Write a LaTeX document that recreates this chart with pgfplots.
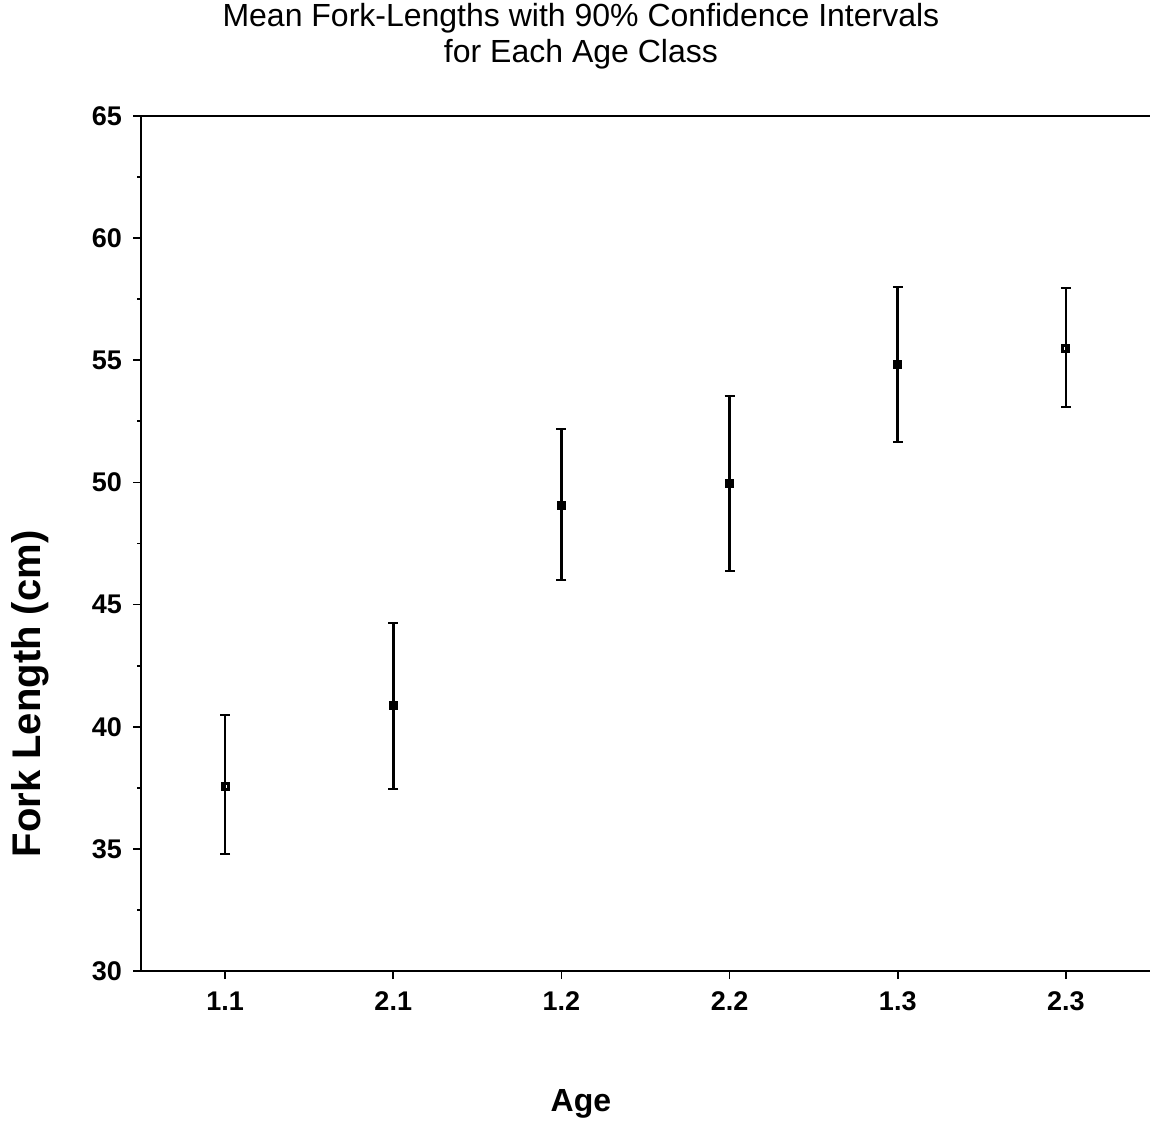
\documentclass[border=0pt]{standalone}
\usepackage{fontspec}
\setmainfont{Liberation Sans}
\usepackage{pgfplots}
\pgfplotsset{compat=1.18}

\begin{document}
\begin{tikzpicture}
\begin{axis}[
  name=ax,
  scale only axis,
  width=504.5pt, height=427.5pt,
  xmin=-0.5, xmax=5.5,
  ymin=30, ymax=65,
  clip=false,
  separate axis lines,
  axis x line=box, axis y line=left,
  axis line style={-, line width=1.2pt, black},
  every outer y axis line/.append style={-},
  xtick pos=left, ytick pos=left,
  xtick={0,1,2,3,4,5},
  xticklabels={1.1,2.1,1.2,2.2,1.3,2.3},
  ytick={30,35,40,45,50,55,60,65},
  minor y tick num=1,
  tick align=outside,
  major tick length=4pt, minor tick length=2pt,
  tick style={line width=0.9pt, black},
  ticklabel style={font=\fontsize{13.5}{15}\selectfont\bfseries},
  xticklabel style={yshift=-3pt},
  yticklabel style={xshift=-2pt},
  /pgf/number format/assume math mode=true,
]
\addplot[only marks, black, mark=square, mark size=1.5pt,
  mark options={line width=1.5pt, fill=white},
  error bars/.cd, y dir=both, y explicit,
  error bar style={line width=1.3pt},
  error mark options={rotate=90, mark size=2.5pt, line width=1pt}]
coordinates {
  (0,37.57) += (0,2.91) -= (0,2.78)
  (1,40.85) += (0,3.40) -= (0,3.40)
  (2,49.04) += (0,3.15) -= (0,3.03)
  (3,49.94) += (0,3.60) -= (0,3.56)
  (4,54.81) += (0,3.17) -= (0,3.16)
  (5,55.50) += (0,2.46) -= (0,2.41)
};
\node[font=\fontsize{16}{18}\selectfont, align=center, anchor=south, inner sep=0pt]
  at ([yshift=23pt]rel axis cs:0.436,1) {Mean Fork-Lengths with 90\% Confidence Intervals\\for Each Age Class};
\node[font=\fontsize{16}{18}\selectfont\bfseries, anchor=base, inner sep=0pt]
  at ([yshift=-70pt]rel axis cs:0.436,0) {Age};
\node[font=\fontsize{20}{24}\selectfont\bfseries, anchor=base, rotate=90, inner sep=0pt]
  at ([xshift=-50pt]rel axis cs:0,0.324) {Fork Length (cm)};
\end{axis}
\pgfresetboundingbox
\path ([xshift=-70.5pt,yshift=-77.5pt]ax.south west) rectangle ([yshift=58pt]ax.north east);
\end{tikzpicture}
\end{document}
